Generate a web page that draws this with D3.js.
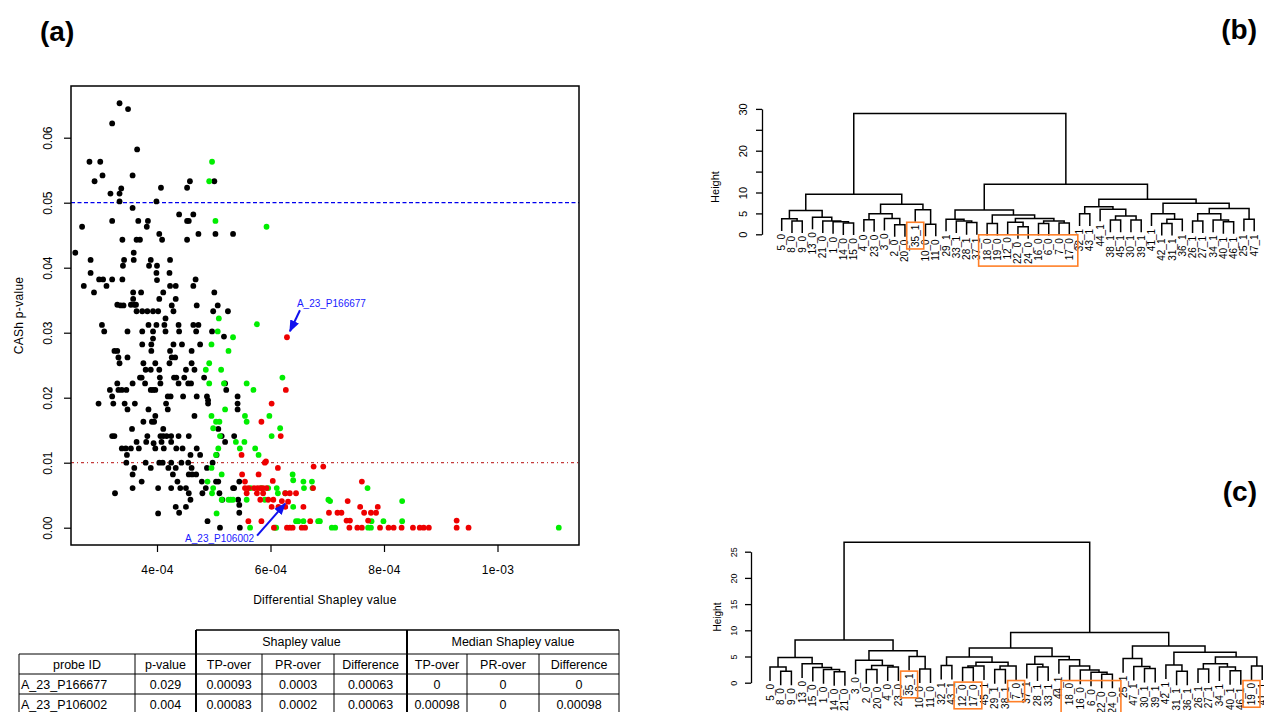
<!DOCTYPE html>
<html>
<head>
<meta charset="utf-8">
<script src="https://cdn.jsdelivr.net/npm/d3@7"></script>
<style>
  body { margin: 0; background: #fff; }
  svg { font-family: "Liberation Sans", Arial, sans-serif; }
</style>
</head>
<body>
<div id="chart"></div>
<script>
// ---------- panel (a): differential Shapley value vs CASh p-value ----------
const blackPts = [
  [3.34e-4,0.0653],[3.49e-4,0.0644],[3.21e-4,0.0622],[3.65e-4,0.0582],[2.81e-4,0.0563],[3.00e-4,0.0563],[2.90e-4,0.0533],[3.04e-4,0.0542],
  [3.57e-4,0.0542],[3.18e-4,0.0514],[3.34e-4,0.0514],[3.37e-4,0.0522],[3.34e-4,0.0502],[4.07e-4,0.0523],[3.99e-4,0.0502],[4.53e-4,0.0523],
  [4.58e-4,0.0533],[5.01e-4,0.0533],[3.57e-4,0.0492],[2.68e-4,0.0463],[3.21e-4,0.0472],[3.67e-4,0.0472],[3.84e-4,0.0472],[3.82e-4,0.0463],
  [4.39e-4,0.0482],[4.53e-4,0.0472],[4.64e-4,0.0482],[4.56e-4,0.0472],[5.03e-4,0.0452],[5.34e-4,0.0452],[4.73e-4,0.0452],[4.53e-4,0.0443],
  [3.39e-4,0.0443],[3.64e-4,0.0443],[3.70e-4,0.0443],[4.04e-4,0.0452],[4.09e-4,0.0443],[2.56e-4,0.0423],[3.59e-4,0.0423],[3.59e-4,0.0412],
  [3.42e-4,0.0412],[3.40e-4,0.0403],[2.83e-4,0.0412],[2.83e-4,0.0392],[3.89e-4,0.0412],[3.86e-4,0.0403],[4.00e-4,0.0403],[3.99e-4,0.0392],
  [4.00e-4,0.0381],[4.23e-4,0.0412],[4.22e-4,0.0392],[2.71e-4,0.0372],[2.89e-4,0.0362],[2.98e-4,0.0382],[3.05e-4,0.0382],[3.11e-4,0.0372],
  [3.21e-4,0.0382],[3.39e-4,0.0382],[3.58e-4,0.0362],[3.72e-4,0.0362],[3.58e-4,0.0352],[3.60e-4,0.0343],[3.36e-4,0.0342],[3.41e-4,0.0342],
  [3.64e-4,0.0333],[3.74e-4,0.0333],[3.83e-4,0.0333],[3.93e-4,0.0333],[4.02e-4,0.0333],[4.04e-4,0.0352],[4.11e-4,0.0362],[4.15e-4,0.0322],
  [4.23e-4,0.0372],[4.33e-4,0.0372],[4.33e-4,0.0352],[4.26e-4,0.0342],[4.29e-4,0.0333],[4.68e-4,0.0382],[4.64e-4,0.0372],[4.70e-4,0.0342],
  [5.01e-4,0.0362],[5.07e-4,0.0342],[4.99e-4,0.0333],[5.25e-4,0.0333],[3.30e-4,0.0343],[3.54e-4,0.0343],[3.63e-4,0.0343],
  [3.03e-4,0.0312],[3.07e-4,0.0302],[3.48e-4,0.0302],[3.74e-4,0.0302],[3.85e-4,0.0312],[3.93e-4,0.0302],[3.99e-4,0.0312],[4.13e-4,0.0312],
  [4.15e-4,0.0302],[4.38e-4,0.0312],[4.39e-4,0.0302],[4.64e-4,0.0312],[4.69e-4,0.0302],[4.73e-4,0.0312],[4.97e-4,0.0302],
  [3.74e-4,0.0282],[3.90e-4,0.0282],[3.93e-4,0.0291],[3.90e-4,0.0272],[4.23e-4,0.0272],[4.26e-4,0.0262],[4.29e-4,0.0282],[4.44e-4,0.0282],
  [4.61e-4,0.0272],[4.76e-4,0.0282],[5.18e-4,0.0294],[3.25e-4,0.0272],[3.30e-4,0.0272],[3.32e-4,0.0262],[3.34e-4,0.0253],[3.48e-4,0.0262],
  [3.76e-4,0.0253],[3.80e-4,0.0243],[3.89e-4,0.0243],[3.97e-4,0.0253],[4.04e-4,0.0243],[4.22e-4,0.0253],[4.32e-4,0.0262],[4.51e-4,0.0243],
  [4.61e-4,0.0253],[4.66e-4,0.0243],[4.83e-4,0.0231],[3.70e-4,0.0231],[3.73e-4,0.0231],[3.79e-4,0.0222],[4.05e-4,0.0231],[4.06e-4,0.0222],
  [4.30e-4,0.0231],[4.34e-4,0.0231],[4.38e-4,0.0222],[4.48e-4,0.0231],[4.55e-4,0.0222],[4.60e-4,0.0222],[3.30e-4,0.0222],[3.17e-4,0.0212],
  [3.21e-4,0.0202],[3.32e-4,0.0212],[3.38e-4,0.0212],[3.46e-4,0.0212],[3.57e-4,0.0222],[3.89e-4,0.0212],[3.93e-4,0.0212],[3.97e-4,0.0212],
  [4.19e-4,0.0202],[4.24e-4,0.0202],[4.46e-4,0.0202],[4.70e-4,0.0202],[4.88e-4,0.0202],[4.90e-4,0.0196],[5.20e-4,0.0222],[5.22e-4,0.0212],
  [2.97e-4,0.0191],[3.23e-4,0.0191],[3.43e-4,0.0191],[3.48e-4,0.0182],[3.61e-4,0.0191],[3.85e-4,0.0182],[3.97e-4,0.0172],[4.16e-4,0.0191],
  [4.19e-4,0.0182],[4.66e-4,0.0172],[4.90e-4,0.0191],[5.42e-4,0.0202],[5.42e-4,0.0191],[5.42e-4,0.0182],[5.36e-4,0.0141],
  [3.76e-4,0.0163],[3.91e-4,0.0163],[3.95e-4,0.0163],[4.11e-4,0.0152],[3.21e-4,0.0141],[3.25e-4,0.0141],[3.56e-4,0.0152],[3.83e-4,0.0141],
  [4.06e-4,0.0141],[4.11e-4,0.0141],[4.17e-4,0.0141],[4.25e-4,0.0141],[4.38e-4,0.0141],[4.56e-4,0.0141],[5.08e-4,0.0152],[5.14e-4,0.0141],
  [3.38e-4,0.0122],[3.45e-4,0.0122],[3.47e-4,0.0112],[3.54e-4,0.0122],[3.64e-4,0.0132],[3.68e-4,0.0122],[3.81e-4,0.0132],[3.94e-4,0.0130],
  [3.97e-4,0.0122],[4.08e-4,0.0132],[4.12e-4,0.0122],[4.25e-4,0.0132],[4.34e-4,0.0122],[4.45e-4,0.0122],[4.59e-4,0.0112],[4.70e-4,0.0122],
  [4.76e-4,0.0112],[5.20e-4,0.0132],[3.46e-4,0.0100],[3.60e-4,0.0092],[3.80e-4,0.0100],[3.89e-4,0.0092],[4.04e-4,0.0100],[4.10e-4,0.0100],
  [4.20e-4,0.0092],[4.25e-4,0.0100],[4.33e-4,0.0092],[4.43e-4,0.0100],[4.55e-4,0.0100],[4.61e-4,0.0092],[4.88e-4,0.0092],[4.98e-4,0.0100],
  [5.05e-4,0.0112],[3.57e-4,0.0082],[3.73e-4,0.0071],[4.28e-4,0.0082],[4.36e-4,0.0071],[4.56e-4,0.0082],[4.62e-4,0.0082],[4.69e-4,0.0082],
  [4.79e-4,0.0071],[5.04e-4,0.0071],[5.08e-4,0.0071],[5.34e-4,0.0061],[5.45e-4,0.0071],[3.26e-4,0.0053],[3.57e-4,0.0061],[4.02e-4,0.0061],
  [4.25e-4,0.0061],[4.41e-4,0.0061],[4.51e-4,0.0061],[4.56e-4,0.0053],[4.59e-4,0.0043],[4.80e-4,0.0053],[4.86e-4,0.0061],[5.10e-4,0.0053],
  [5.15e-4,0.0043],[5.36e-4,0.0061],[5.43e-4,0.0043],[5.45e-4,0.0035],[4.02e-4,0.0022],[4.33e-4,0.0032],[4.39e-4,0.0023],[4.51e-4,0.0032],
  [4.89e-4,0.0010],[5.11e-4,0.0000],[5.45e-4,0.0023],[5.46e-4,0.0000]
];
const greenPts = [
  [4.97e-4,0.0563],[4.92e-4,0.0533],[5.03e-4,0.0472],[5.93e-4,0.0463],[5.09e-4,0.0322],[5.76e-4,0.0313],[5.07e-4,0.0302],[4.96e-4,0.0282],
  [5.34e-4,0.0293],[5.26e-4,0.0272],[4.92e-4,0.0253],[4.86e-4,0.0243],[5.13e-4,0.0243],[4.92e-4,0.0222],[5.18e-4,0.0222],[5.58e-4,0.0222],
  [5.70e-4,0.0212],[5.20e-4,0.0182],[4.96e-4,0.0172],[5.04e-4,0.0163],[4.99e-4,0.0153],[5.10e-4,0.0163],[5.55e-4,0.0172],[5.58e-4,0.0163],
  [5.11e-4,0.0141],[5.39e-4,0.0132],[5.54e-4,0.0132],[5.73e-4,0.0122],[5.79e-4,0.0112],[5.46e-4,0.0122],[5.08e-4,0.0122],[5.04e-4,0.0112],
  [4.96e-4,0.0092],[5.14e-4,0.0082],[4.89e-4,0.0071],[4.99e-4,0.0061],[4.97e-4,0.0053],[5.14e-4,0.0043],[5.26e-4,0.0043],[5.30e-4,0.0043],
  [5.34e-4,0.0043],[5.05e-4,0.0022],[5.58e-4,0.0043],[5.65e-4,0.0061],[5.96e-4,0.0061],[6.11e-4,0.0061],[5.84e-4,0.0061],[6.13e-4,0.0053],
  [6.26e-4,0.0053],[5.90e-4,0.0043],[6.08e-4,0.0000],[5.64e-4,0.0000],[6.40e-4,0.0032],[6.40e-4,0.0073],[6.39e-4,0.0082],[6.58e-4,0.0071],
  [6.73e-4,0.0071],[6.74e-4,0.0061],[6.49e-4,0.0010],[6.58e-4,0.0010],[6.87e-4,0.0010],[7.02e-4,0.0043],[6.02e-4,0.0141],[5.98e-4,0.0172],
  [6.17e-4,0.0153],[6.21e-4,0.0231],[6.59e-4,0.0061],[7.71e-4,0.0061],[7.05e-4,0.0041],[8.32e-4,0.0041],[6.45e-4,0.0010],[6.84e-4,0.0010],
  [7.08e-4,0.0000],[7.14e-4,0.0000],[7.78e-4,0.0010],[7.99e-4,0.0010],[8.32e-4,0.0010],[7.72e-4,0.0000],[7.77e-4,0.0000],[6.10e-4,0.0000],
  [1.108e-3,0.0000]
];
const redPts = [
  [6.29e-4,0.0293],[6.27e-4,0.0212],[6.02e-4,0.0191],[5.84e-4,0.0163],[6.18e-4,0.0141],[5.49e-4,0.0112],[5.90e-4,0.0100],[6.13e-4,0.0092],
  [5.79e-4,0.0082],[6.04e-4,0.0072],[5.55e-4,0.0061],[5.61e-4,0.0061],[5.71e-4,0.0061],[5.77e-4,0.0061],[5.82e-4,0.0061],[5.87e-4,0.0061],
  [5.93e-4,0.0061],[5.58e-4,0.0053],[5.76e-4,0.0053],[5.87e-4,0.0053],[6.05e-4,0.0043],[6.26e-4,0.0053],[6.34e-4,0.0053],[6.45e-4,0.0053],
  [5.82e-4,0.0043],[5.96e-4,0.0043],[6.02e-4,0.0032],[6.14e-4,0.0032],[6.26e-4,0.0032],[6.58e-4,0.0032],[5.61e-4,0.0010],[5.84e-4,0.0010],
  [6.29e-4,0.0000],[6.34e-4,0.0000],[6.39e-4,0.0000],[6.55e-4,0.0000],[6.61e-4,0.0000],[6.70e-4,0.0010],[6.76e-4,0.0094],[6.93e-4,0.0094],
  [5.92e-4,0.0102],[7.61e-4,0.0071],[6.75e-4,0.0061],[6.31e-4,0.0040],[6.20e-4,0.0041],[7.36e-4,0.0041],[7.58e-4,0.0032],[7.89e-4,0.0032],
  [7.03e-4,0.0023],[7.18e-4,0.0023],[7.25e-4,0.0023],[7.65e-4,0.0023],[7.77e-4,0.0023],[7.86e-4,0.0023],[7.34e-4,0.0011],[7.40e-4,0.0011],
  [7.72e-4,0.0011],[6.06e-4,0.0000],[7.39e-4,0.0000],[7.53e-4,0.0000],[7.61e-4,0.0000],[7.93e-4,0.0000],[8.08e-4,0.0000],[8.17e-4,0.0000],
  [8.31e-4,0.0000],[8.51e-4,0.0000],[8.63e-4,0.0000],[8.70e-4,0.0000],[8.79e-4,0.0000],[9.28e-4,0.0000],[9.28e-4,0.0011],[9.49e-4,0.0000],
  [5.55e-4,0.0071],[5.50e-4,0.0082]
];
const xTicks = [4e-4, 6e-4, 8e-4, 1e-3];
const xTickLabels = ["4e-04", "6e-04", "8e-04", "1e-03"];
const yTicks = [0, 0.01, 0.02, 0.03, 0.04, 0.05, 0.06];
const cutoffs = [0.05, 0.01];
const annotations = [
  { label: "A_23_P166677", x: 6.29e-4, p: 0.0293 },
  { label: "A_23_P106002", x: 6.31e-4, p: 0.0040 }
];

// ---------- table under panel (a) ----------
const tableGroups = ["Shapley value", "Median Shapley value"];
const tableCols = ["probe ID", "p-value", "TP-over", "PR-over", "Difference", "TP-over", "PR-over", "Difference"];
const tableRows = [
  ["A_23_P166677", "0.029", "0.00093", "0.0003", "0.00063", "0", "0", "0"],
  ["A_23_P106002", "0.004", "0.00083", "0.0002", "0.00063", "0.00098", "0", "0.00098"]
];

// ---------- panels (b) and (c): dendrograms, merges as [left, right, height] ----------
// a number refers to an earlier merge in the same list
const mergesB = [
  ["8_0","9_0",3.2], ["5_0",0,3.7], ["14_0","15_0",2.7], ["1_0",2,3.0], ["21_0",3,3.2], ["13_0",4,4.1], [1,5,5.7],
  ["4_0","23_0",3.5], ["2_0","20_0",2.3], ["3_0",8,3.8], [7,9,4.9], ["10_0","11_0",2.4], ["35_1",11,5.9], [10,12,7.2],
  [6,13,9.6],
  ["28_1","37_1",2.8], ["33_1",15,3.2], ["29_1",16,3.6], ["18_0","19_0",2.6], ["22_0","24_0",1.8], ["12_0",19,2.9],
  ["16_0","6_0",2.6], ["7_0","17_0",2.7], [21,22,3.2], [20,23,3.8], [18,24,4.6], [17,25,5.8],
  ["32_1","43_1",4.9], ["38_1","45_1",3.4], ["30_1","39_1",3.4], [28,29,4.4], ["44_1",30,6.0], [27,31,6.6],
  ["42_1","31_1",2.6], [33,"36_1",3.6], ["41_1",34,4.9], ["26_1","27_1",3.2], ["40_1","46_1",3.0], ["34_1",37,3.4],
  [36,38,4.9], ["25_1","47_1",3.6], [39,40,6.2], [35,41,7.4], [32,42,8.4], [26,43,12.0],
  [14,44,28.9]
];
const ticksB = [0, 5, 10, 15, 20, 25, 30];
const tickLabelsB = [0, 5, 10, 20, 30];
const boxesB = [["35_1"], ["18_0","19_0","12_0","22_0","24_0","16_0","6_0","7_0","17_0"]];

const mergesC = [
  ["8_0","9_0",2.2], ["5_0",0,3.0], ["14_0","21_0",2.1], ["1_0",2,2.5], ["15_0",3,2.9], ["13_0",4,3.6], [1,5,4.8],
  ["2_0","20_0",2.5], ["4_0","23_0",3.0], [7,8,3.3], ["3_0",9,4.3], ["10_0","11_0",2.6], ["35_1",11,5.0], [10,12,6.1],
  [6,13,8.15],
  ["32_1","43_1",3.3], ["12_0","17_0",2.9], [16,"45_1",3.2], ["29_1","38_1",2.5], [18,"7_0",3.2], [17,19,3.9], [15,20,4.9],
  ["28_1","33_1",3.0], ["37_1",22,3.5], ["22_0","24_0",1.6], ["6_0",24,2.0], ["16_0",25,2.4], ["18_0",26,3.2], ["44_1",27,4.4],
  [23,28,5.0], [21,29,6.6],
  ["30_1","39_1",2.7], ["47_1",31,3.1], ["25_1",32,4.6], ["31_1","36_1",2.2], ["42_1",34,3.4], ["26_1","27_1",2.6],
  ["40_1","46_1",2.3], ["34_1",37,3.0], [36,38,3.6], ["19_0","41_1",3.2], [39,40,4.9], [35,41,5.8], [33,42,7.0],
  [30,43,9.6],
  [14,44,26.8]
];
const ticksC = [0, 5, 10, 15, 20, 25];
const tickLabelsC = [0, 5, 10, 15, 20, 25];
const boxesC = [["35_1"], ["12_0","17_0"], ["7_0"], ["18_0","16_0","6_0","22_0","24_0"], ["19_0"]];

// ---------- drawing ----------
const W = 1264, H = 712;
const svg = d3.select("#chart").append("svg")
    .attr("width", W)
    .attr("height", H);

// panel letters
svg.selectAll("text.panel-letter")
    .data([["(a)", 40, 41, "start"], ["(b)", 1257, 39, "end"], ["(c)", 1257, 501, "end"]])
    .join("text")
    .attr("class", "panel-letter")
    .attr("x", d => d[1])
    .attr("y", d => d[2])
    .attr("text-anchor", d => d[3])
    .attr("font-size", "28px")
    .attr("font-weight", "bold")
    .text(d => d[0]);

// scatter
const x = d3.scaleLinear().domain([4e-4, 1e-3]).range([157, 497.5]);
const y = d3.scaleLinear().domain([0, 0.06]).range([527.7, 137.7]);
const box = { left: 71, right: 579, top: 86, bottom: 545 };

const scat = svg.append("g").attr("class", "scatter");

// cut-off lines
scat.selectAll("line.cutoff")
    .data(cutoffs)
    .join("line")
    .attr("x1", box.left).attr("x2", box.right)
    .attr("y1", d => y(d)).attr("y2", d => y(d))
    .attr("stroke", (d, i) => i === 0 ? "#0000ee" : "#c43a3a")
    .attr("stroke-width", 1.3)
    .attr("stroke-dasharray", (d, i) => i === 0 ? "4,2.5" : "3,3,1,3");

const series = [[blackPts, "#000000"], [greenPts, "#00ee00"], [redPts, "#ee0000"]];
series.forEach(([pts, col]) => {
    scat.append("g").selectAll("circle")
        .data(pts)
        .join("circle")
        .attr("cx", d => x(d[0]))
        .attr("cy", d => y(d[1]))
        .attr("r", 2.9)
        .attr("fill", col);
});

scat.append("rect")
    .attr("x", box.left).attr("y", box.top)
    .attr("width", box.right - box.left).attr("height", box.bottom - box.top)
    .attr("fill", "none").attr("stroke", "#000").attr("stroke-width", 1.5);

const xAxis = scat.append("g")
    .attr("transform", `translate(0,${box.bottom})`)
    .call(d3.axisBottom(x).tickValues(xTicks).tickFormat((d, i) => xTickLabels[i]).tickSize(7).tickPadding(13));
xAxis.select(".domain").remove();
xAxis.selectAll("text").attr("font-size", "12px").attr("letter-spacing", "0.4px").attr("fill", "#000").attr("font-family", null);

const yAxis = scat.append("g")
    .attr("transform", `translate(${box.left},0)`)
    .call(d3.axisLeft(y).tickValues(yTicks).tickFormat(d3.format(".2f")).tickSize(7));
yAxis.select(".domain").remove();
yAxis.selectAll("text")
    .attr("x", null).attr("dy", null)
    .attr("text-anchor", "middle")
    .attr("transform", "translate(-19,0) rotate(-90)")
    .attr("font-size", "12px").attr("fill", "#000").attr("font-family", null);
scat.selectAll(".tick line").attr("stroke", "#000").attr("stroke-width", 1.2);

scat.append("text")
    .attr("x", (box.left + box.right) / 2).attr("y", 604)
    .attr("text-anchor", "middle").attr("font-size", "12px").attr("letter-spacing", "0.3px")
    .text("Differential Shapley value");
scat.append("text")
    .attr("transform", `translate(23,${(box.top + box.bottom) / 2}) rotate(-90)`)
    .attr("text-anchor", "middle").attr("font-size", "12px").attr("letter-spacing", "0.3px")
    .text("CASh p-value");

// annotations with arrows
svg.append("defs").append("marker")
    .attr("id", "arrow").attr("viewBox", "0 0 10 10")
    .attr("refX", 9).attr("refY", 5)
    .attr("markerWidth", 6).attr("markerHeight", 6)
    .attr("orient", "auto")
    .append("path").attr("d", "M0,1L10,5L0,9Z").attr("fill", "#1010ee");

const annOffsets = [{ tip: [3, -6], tail: [13, -27], text: [10, -30], anchor: "start" },
                    { tip: [-3, 2], tail: [-31, 34], text: [-34, 40], anchor: "end" }];
annotations.forEach((a, i) => {
    const px = x(a.x), py = y(a.p), o = annOffsets[i];
    scat.append("line")
        .attr("x1", px + o.tail[0]).attr("y1", py + o.tail[1])
        .attr("x2", px + o.tip[0]).attr("y2", py + o.tip[1])
        .attr("stroke", "#1010ee").attr("stroke-width", 2)
        .attr("marker-end", "url(#arrow)");
    scat.append("text")
        .attr("x", px + o.text[0]).attr("y", py + o.text[1])
        .attr("text-anchor", o.anchor)
        .attr("font-size", "10px").attr("fill", "#1a1aff")
        .text(a.label);
});

// table
const colEdges = [19, 135, 196, 262, 334, 407, 467, 539, 619];
const rowEdges = [630, 654, 674, 694, 714];
const tbl = svg.append("g").attr("class", "table").attr("font-size", "12.5px");

// group header
tbl.selectAll("text.group")
    .data(tableGroups)
    .join("text")
    .attr("class", "group")
    .attr("x", (d, i) => (colEdges[2 + i * 3] + colEdges[5 + i * 3]) / 2)
    .attr("y", rowEdges[0] + 16)
    .attr("text-anchor", "middle")
    .text(d => d);
tbl.selectAll("text.col")
    .data(tableCols)
    .join("text")
    .attr("class", "col")
    .attr("x", (d, i) => (colEdges[i] + colEdges[i + 1]) / 2)
    .attr("y", rowEdges[1] + 15)
    .attr("text-anchor", "middle")
    .text(d => d);
tableRows.forEach((row, r) => {
    tbl.append("g").selectAll("text")
        .data(row)
        .join("text")
        .attr("x", (d, i) => i === 0 ? colEdges[0] + 2 : (colEdges[i] + colEdges[i + 1]) / 2)
        .attr("y", rowEdges[2 + r] + 15)
        .attr("text-anchor", (d, i) => i === 0 ? "start" : "middle")
        .text(d => d);
});
// horizontal rules
tbl.append("line").attr("x1", colEdges[2]).attr("x2", colEdges[8]).attr("y1", rowEdges[0]).attr("y2", rowEdges[0])
    .attr("stroke", "#000").attr("stroke-width", 1.5);
rowEdges.slice(1).forEach(ry => {
    tbl.append("line").attr("x1", colEdges[0]).attr("x2", colEdges[8]).attr("y1", ry).attr("y2", ry)
        .attr("stroke", "#000").attr("stroke-width", 1);
});
// vertical rules
colEdges.forEach((cx, i) => {
    const thick = i === 2 || i === 5;
    const inGroupRow = i === 2 || i === 5 || i === 8;
    tbl.append("line")
        .attr("x1", cx).attr("x2", cx)
        .attr("y1", inGroupRow ? rowEdges[0] : rowEdges[1]).attr("y2", H)
        .attr("stroke", "#000").attr("stroke-width", thick ? 2 : 1);
});

// dendrograms
function drawDendro(merges, o) {
    const g = svg.append("g");
    const hang = 0.1 * d3.max(merges, m => m[2]);
    const order = [];
    const walk = c => {
        if (typeof c === "string") order.push(c);
        else { walk(merges[c][0]); walk(merges[c][1]); }
    };
    walk(merges.length - 1);

    const xs = d3.scalePoint().domain(order).range(o.xRange);
    const ys = d3.scaleLinear().domain(o.yDomain).range(o.yRange);

    const pos = [];
    const cx = c => typeof c === "string" ? xs(c) : pos[c];
    merges.forEach((m, i) => { pos[i] = (cx(m[0]) + cx(m[1])) / 2; });
    const childTop = (c, h) => typeof c === "string" ? h - hang : merges[c][2];

    g.selectAll("path.link")
        .data(merges)
        .join("path")
        .attr("class", "link")
        .attr("d", m => `M${cx(m[0])},${ys(childTop(m[0], m[2]))}V${ys(m[2])}H${cx(m[1])}V${ys(childTop(m[1], m[2]))}`)
        .attr("fill", "none").attr("stroke", "#000").attr("stroke-width", 1.5);

    const leafEnd = {};
    merges.forEach(m => [m[0], m[1]].forEach(c => { if (typeof c === "string") leafEnd[c] = m[2] - hang; }));

    const labels = g.selectAll("text.leaf")
        .data(order)
        .join("text")
        .attr("class", "leaf")
        .attr("transform", d => `translate(${xs(d)},${ys(leafEnd[d]) + 3}) rotate(-90)`)
        .attr("dy", "0.35em")
        .attr("text-anchor", "end")
        .attr("font-size", o.labelSize)
        .text(d => d);

    // y axis
    const ax = g.append("g")
        .attr("transform", `translate(${o.axisX},0)`)
        .call(d3.axisLeft(ys).tickValues(o.ticks).tickSize(6).tickSizeOuter(0)
            .tickFormat(d => o.tickLabels.includes(d) ? d : ""));
    ax.select(".domain").attr("stroke-width", 1.3);
    ax.selectAll(".tick line").attr("stroke-width", 1.3);
    ax.selectAll("text")
        .attr("x", null).attr("dy", null)
        .attr("text-anchor", "middle")
        .attr("transform", `translate(${o.tickLabelDx},0) rotate(-90)`)
        .attr("font-size", o.tickSize).attr("font-family", null).attr("fill", "#000");

    g.append("text")
        .attr("transform", `translate(${o.titleX},${o.titleY}) rotate(-90)`)
        .attr("text-anchor", "middle").attr("font-size", o.titleSize)
        .text("Height");

    // orange boxes around highlighted leaf labels
    const svgRect = svg.node().getBoundingClientRect();
    o.boxes.forEach(group => {
        let x0 = Infinity, y0 = Infinity, x1 = -Infinity, y1 = -Infinity;
        labels.filter(d => group.includes(d)).each(function () {
            const r = this.getBoundingClientRect();
            x0 = Math.min(x0, r.left - svgRect.left); x1 = Math.max(x1, r.right - svgRect.left);
            y0 = Math.min(y0, r.top - svgRect.top); y1 = Math.max(y1, r.bottom - svgRect.top);
        });
        g.append("rect")
            .attr("x", x0 - 3).attr("y", y0 - 2)
            .attr("width", x1 - x0 + 6).attr("height", y1 - y0 + 4)
            .attr("fill", "none").attr("stroke", "#ff7f27").attr("stroke-width", 1.6);
    });
}

drawDendro(mergesB, {
    xRange: [781.7, 1254.2], yDomain: [0, 30], yRange: [234.3, 108.9],
    ticks: ticksB, tickLabels: tickLabelsB, boxes: boxesB,
    axisX: 762, tickLabelDx: -15, tickSize: "11px", labelSize: "10px",
    titleX: 719, titleY: 187, titleSize: "11px"
});
drawDendro(mergesC, {
    xRange: [770, 1262.2], yDomain: [0, 25], yRange: [682.7, 551.7],
    ticks: ticksC, tickLabels: tickLabelsC, boxes: boxesC,
    axisX: 751, tickLabelDx: -14, tickSize: "9px", labelSize: "10px",
    titleX: 721, titleY: 617, titleSize: "10px"
});
</script>
</body>
</html>
